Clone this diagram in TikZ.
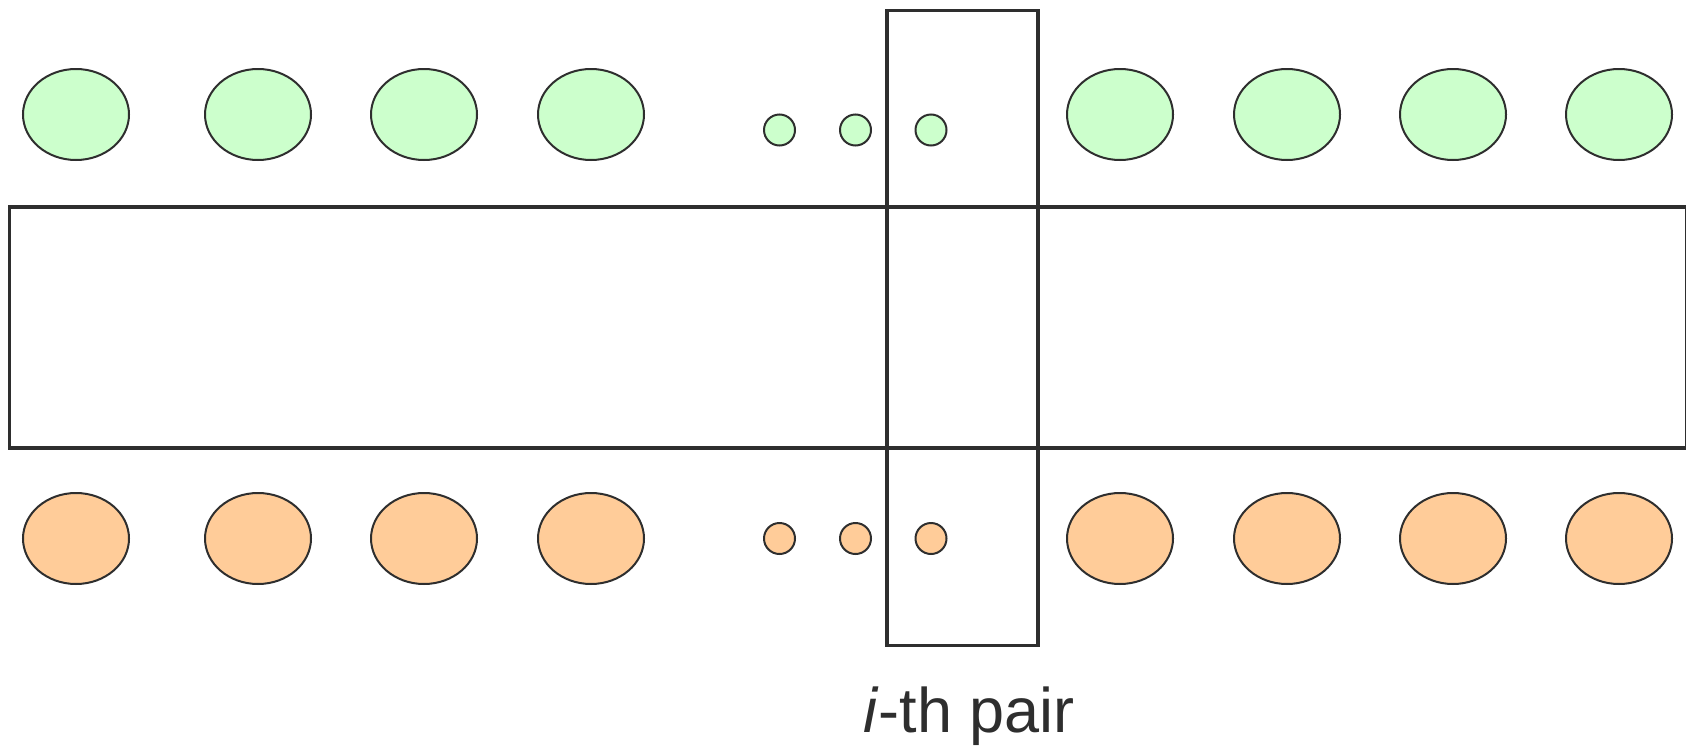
\documentclass[tikz,border=0pt]{standalone}
\usepackage{fontspec}
\setmainfont{Liberation Sans}
\usetikzlibrary{shapes.geometric}
\definecolor{linegray}{HTML}{2E2E2E}
\definecolor{topfill}{HTML}{CCFFCC}
\definecolor{botfill}{HTML}{FFCC99}
\tikzset{
  bigell/.style={ellipse, draw=linegray, line width=2pt, minimum width=106pt, minimum height=91pt, inner sep=0pt},
  smallc/.style={circle, draw=linegray, line width=2pt, minimum size=31pt, inner sep=0pt},
  frame/.style={draw=linegray, line width=3.5pt},
}
\begin{document}
\begin{tikzpicture}[x=1pt,y=-1pt]
\useasboundingbox (0,0) rectangle (1686,747);
% big horizontal rectangle
\node[frame, rectangle, inner sep=0pt, minimum width=1677pt, minimum height=241pt, anchor=north west] (band) at (7.5,205) {};
% tall rectangle for the i-th pair
\node[frame, rectangle, inner sep=0pt, minimum width=151pt, minimum height=635pt, anchor=north west] (pair) at (885,8.5) {};
% top row (green)
\foreach \n/\x in {1/76,2/258,3/424,4/591,5/1120,6/1287,7/1453,8/1619}
  \node[bigell, fill=topfill] (t\n) at (\x,114.5) {};
\foreach \n/\x in {1/779.5,2/855.5,3/931}
  \node[smallc, fill=topfill] (ts\n) at (\x,130) {};
% bottom row (orange)
\foreach \n/\x in {1/76,2/258,3/424,4/591,5/1120,6/1287,7/1453,8/1619}
  \node[bigell, fill=botfill] (b\n) at (\x,538.5) {};
\foreach \n/\x in {1/779.5,2/855.5,3/931}
  \node[smallc, fill=botfill] (bs\n) at (\x,538.5) {};
% label
\node[anchor=base, text=linegray, font=\fontsize{63}{68}\selectfont, inner sep=0pt] (lbl) at (969,732) {\textit{i}-th pair};
\end{tikzpicture}
\end{document}
